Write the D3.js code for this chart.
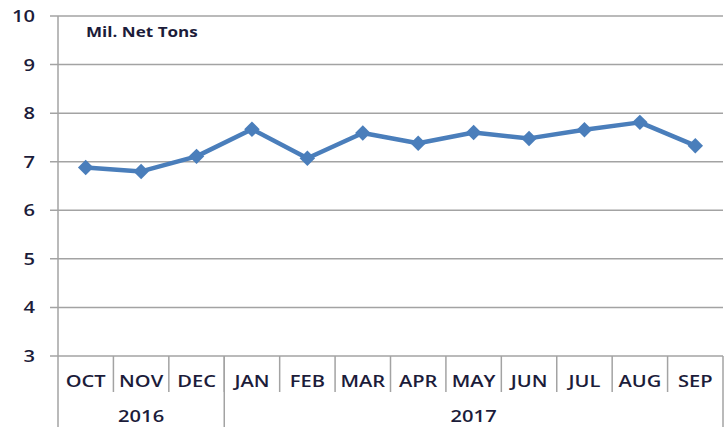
<!DOCTYPE html>
<html><head><meta charset="utf-8">
<script src="https://cdn.jsdelivr.net/npm/d3@7"></script>
<style>body{margin:0;background:#fff}svg{display:block}text{font-family:"Open Sans","Liberation Sans",sans-serif}</style>
</head><body><svg id="c" width="724" height="427"></svg>
<script>
const months = ["OCT","NOV","DEC","JAN","FEB","MAR","APR","MAY","JUN","JUL","AUG","SEP"];
const values = [6.88,6.80,7.11,7.67,7.07,7.59,7.38,7.60,7.48,7.66,7.81,7.33];
const years = [{label:"2016", start:0, end:3},{label:"2017", start:3, end:12}];
const yTicks = [3,4,5,6,7,8,9,10];
const unitLabel = "Mil. Net Tons";

(function(){
const svg = d3.select("#c");
const pL = 58, pR = 723, pT = 16, pB = 356;
const x = d3.scaleBand().domain(months).range([pL, pR]).padding(0);
const y = d3.scaleLinear().domain([3,10]).range([pB, pT]);
const grid = "#a3a3a3";
const ink = "#1c1c3a";
const sx = 1.22;

function label(g, tx, ty, txt, size, weight, anchor){
  g.append("g").attr("transform", `translate(${tx},${ty}) scale(${sx},1)`)
   .append("text").attr("text-anchor", anchor).attr("font-size", size)
   .attr("font-weight", weight).attr("fill", ink).text(txt);
}

svg.append("g").selectAll("line").data(yTicks).join("line")
  .attr("x1", 50).attr("x2", pR).attr("y1", d=>y(d)).attr("y2", d=>y(d))
  .attr("stroke", grid).attr("stroke-width", 1.5);
const gy = svg.append("g");
yTicks.forEach(d => label(gy, 35, y(d)+6, d, 16.5, 600, "end"));
svg.append("line").attr("x1", pL).attr("x2", pL).attr("y1", pT).attr("y2", 427)
  .attr("stroke", grid).attr("stroke-width", 1.5);
svg.append("g").selectAll("line").data(months.slice(1)).join("line")
  .attr("x1", d=>x(d)).attr("x2", d=>x(d)).attr("y1", pB).attr("y2", 392)
  .attr("stroke", grid).attr("stroke-width", 1.5);
const yearEdges = years.map(d=>d.end).map(i => i < months.length ? x(months[i]) : pR);
svg.append("g").selectAll("line").data(yearEdges).join("line")
  .attr("x1", d=>d).attr("x2", d=>d).attr("y1", pB).attr("y2", 427)
  .attr("stroke", grid).attr("stroke-width", 1.5);
const gm = svg.append("g");
months.forEach(d => label(gm, x(d)+x.bandwidth()/2, 387, d, 16.5, 600, "middle"));
const gyr = svg.append("g");
years.forEach(d => {
  const a = x(months[d.start]); const b = d.end < months.length ? x(months[d.end]) : pR;
  label(gyr, (a+b)/2, 422, d.label, 16.5, 600, "middle");
});
label(svg, 86, 37, unitLabel, 14, 700, "start");

const line = d3.line().x((d,i)=>x(months[i])+x.bandwidth()/2).y(d=>y(d));
svg.append("path").datum(values).attr("d", line).attr("fill","none")
  .attr("stroke", "#4a7ebb").attr("stroke-width", 4.5).attr("stroke-linejoin","round");
svg.append("g").selectAll("path").data(values).join("path")
  .attr("d", d3.symbol(d3.symbolSquare, 120)())
  .attr("transform", (d,i)=>`translate(${x(months[i])+x.bandwidth()/2},${y(d)}) rotate(45)`)
  .attr("fill", "#4a7ebb");
})();
</script></body></html>
